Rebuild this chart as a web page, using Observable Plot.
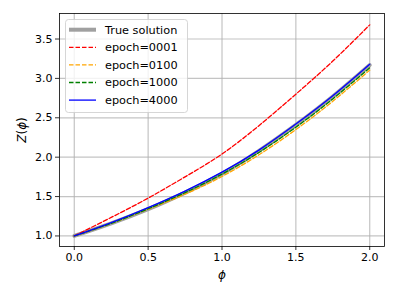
<!DOCTYPE html>
<html>
<head>
<meta charset="utf-8">
<script src="https://cdn.jsdelivr.net/npm/d3@7"></script>
<script src="https://cdn.jsdelivr.net/npm/@observablehq/plot@0.6"></script>
<style>
  html, body { margin: 0; padding: 0; background: #fff; }
  #chart svg { display: block; font-family: "DejaVu Sans", sans-serif; }
</style>
</head>
<body>
<div id="chart"></div>
<script>
// phi sample points
const phi = [0, 0.25, 0.5, 0.75, 1.0, 1.25, 1.5, 1.75, 2.0];
// series values
const trueSolution = [1.0, 1.16, 1.34, 1.55, 1.79, 2.08, 2.41, 2.77, 3.17];
const epoch0001 = [1.0, 1.235, 1.48, 1.75, 2.04, 2.40, 2.80, 3.22, 3.68];
const epoch0100 = [1.0, 1.16, 1.34, 1.53, 1.755, 2.03, 2.35, 2.71, 3.105];
const epoch1000 = [1.0, 1.16, 1.345, 1.55, 1.785, 2.06, 2.38, 2.74, 3.135];
const epoch4000 = [1.0, 1.17, 1.36, 1.57, 1.81, 2.09, 2.42, 2.78, 3.18];

const seriesNames = ["True solution", "epoch=0001", "epoch=0100", "epoch=1000", "epoch=4000"];
const seriesValues = [trueSolution, epoch0001, epoch0100, epoch1000, epoch4000];
const seriesColors = ["#a0a0a0", "#ff0000", "#ffa500", "#008000", "#0000ff"];
const seriesWidths = [4, 1.3, 1.3, 1.3, 1.3];
const seriesDash = [null, "4.5,2", "4.5,2", "4.5,2", null];

const xTicks = [0.0, 0.5, 1.0, 1.5, 2.0];
const yTicks = [1.0, 1.5, 2.0, 2.5, 3.0, 3.5];

const tables = seriesValues.map(vals => phi.map((p, i) => ({phi: p, z: vals[i]})));

const lineMarks = tables.map((t, k) => Plot.line(t, {
  x: "phi", y: "z", curve: "natural",
  stroke: seriesColors[k], strokeWidth: seriesWidths[k],
  strokeDasharray: seriesDash[k], strokeOpacity: 1
}));

const W = 399, H = 299;
const chart = Plot.plot({
  width: W, height: H,
  marginLeft: 59, marginRight: 15, marginTop: 13, marginBottom: 53,
  style: {fontFamily: "DejaVu Sans, sans-serif", fontSize: "11px", color: "#000", background: "#fff"},
  x: {domain: [-0.1, 2.1], label: null},
  y: {domain: [0.866, 3.824], label: null},
  marks: [
    Plot.gridX(xTicks, {stroke: "#b0b0b0", strokeOpacity: 0.75, strokeWidth: 1.2}),
    Plot.gridY(yTicks, {stroke: "#b0b0b0", strokeOpacity: 0.75, strokeWidth: 1.2}),
    ...lineMarks,
    Plot.axisX(xTicks, {tickSize: 4, tickPadding: 3, tickFormat: d3.format(".1f"), fontSize: 11, stroke: "#000", strokeWidth: 0.8, label: null}),
    Plot.axisY(yTicks, {tickSize: 4, tickPadding: 3, tickFormat: d3.format(".1f"), fontSize: 11, stroke: "#000", strokeWidth: 0.8, label: null}),
    Plot.frame({stroke: "#000", strokeWidth: 0.8})
  ]
});

const svg = d3.select(chart);
// axis labels
svg.append("text")
  .attr("x", 222).attr("y", 279)
  .attr("text-anchor", "middle")
  .attr("font-size", 12).attr("font-style", "italic")
  .attr("fill", "#000")
  .text("ϕ");
const yl = svg.append("text")
  .attr("transform", "translate(26,130) rotate(-90)")
  .attr("text-anchor", "middle")
  .attr("font-size", 12)
  .attr("fill", "#000");
yl.append("tspan").attr("font-style", "italic").text("Z");
yl.append("tspan").text("(");
yl.append("tspan").attr("font-style", "italic").text("ϕ");
yl.append("tspan").text(")");

// legend
const lg = svg.append("g").attr("text-anchor", "start");
lg.append("rect")
  .attr("x", 65.5).attr("y", 19.5).attr("width", 122).attr("height", 93)
  .attr("rx", 3).attr("ry", 3)
  .attr("fill", "#ffffff").attr("fill-opacity", 0.8)
  .attr("stroke", "#cccccc").attr("stroke-width", 0.8);
seriesNames.forEach((name, k) => {
  const y = 29.7 + k * 17.6;
  const ln = lg.append("line")
    .attr("x1", 69).attr("x2", 96).attr("y1", y).attr("y2", y)
    .attr("stroke", seriesColors[k]).attr("stroke-width", seriesWidths[k]);
  if (seriesDash[k]) ln.attr("stroke-dasharray", seriesDash[k]);
  lg.append("text")
    .attr("x", 105).attr("y", y).attr("dy", "0.35em")
    .attr("text-anchor", "start")
    .attr("font-size", 11.3).attr("fill", "#000")
    .text(name);
});

document.getElementById("chart").appendChild(chart);
</script>
</body>
</html>
